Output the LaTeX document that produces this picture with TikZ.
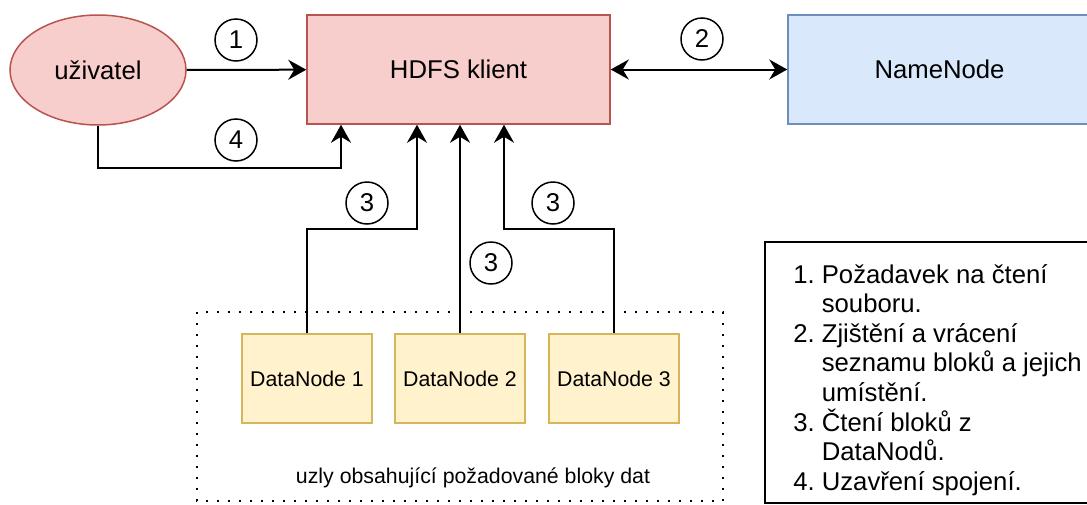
\documentclass[tikz,border=0pt]{standalone}
\usepackage{fontspec}
\setmainfont{Liberation Sans}
\usetikzlibrary{shapes.geometric,arrows.meta}
\definecolor{userfill}{HTML}{F8CECC}
\definecolor{userline}{HTML}{B85450}
\definecolor{namefill}{HTML}{DAE8FC}
\definecolor{nameline}{HTML}{6C8EBF}
\definecolor{dnfill}{HTML}{FFF2CC}
\definecolor{dnline}{HTML}{D6B656}
\begin{document}
\begin{tikzpicture}[x=0.5pt,y=-0.5pt,
  every node/.style={font=\fontsize{12.85}{15}\selectfont},
  >={Stealth[length=9pt,width=10pt,inset=3pt]},
  box/.style={draw,line width=0.75pt,minimum width=151.5pt,minimum height=54.5pt,inner sep=0pt},
  dnode/.style={draw=dnline,fill=dnfill,line width=0.9pt,minimum width=65pt,minimum height=44.5pt,inner sep=0pt,font=\fontsize{10.65}{13}\selectfont},
  num/.style={circle,draw,line width=0.75pt,minimum size=21pt,inner sep=0pt},
  arr/.style={line width=1pt,->}]
  \useasboundingbox (0,0) rectangle (1087,504);
  \clip (0,0) rectangle (1087,504);
  % main nodes
  \node[ellipse,draw=userline,fill=userfill,line width=0.75pt,minimum width=88pt,minimum height=55pt,inner sep=0pt] (user) at (98,70) {uživatel};
  \node[box,draw=userline,fill=userfill] (client) at (458.5,69.5) {HDFS klient};
  \node[box,draw=nameline,fill=namefill] (namenode) at (939.5,69.5) {NameNode};
  \node[dnode] (dn1) at (307,378.5) {DataNode 1};
  \node[dnode] (dn2) at (460,378.5) {DataNode 2};
  \node[dnode] (dn3) at (614,378.5) {DataNode 3};
  % group of datanodes
  \draw[line width=1pt,dash pattern=on 1pt off 4.5pt] (197,312) rectangle (723,501);
  \node[font=\fontsize{10.65}{13}\selectfont] (grp) at (473,478) {uzly obsahující požadované bloky dat};
  % connectors
  \coordinate (c4) at (341,168);
  \coordinate (c3a) at (417,229);
  \coordinate (c3c) at (504,229);
  \draw[arr] (user) -- (client);
  \draw[arr,<->] (client) -- (namenode);
  \draw[arr] (user.south) |- (c4) -- (c4 |- client.south);
  \draw[arr] (dn1.north) |- (c3a) -- (c3a |- client.south);
  \draw[arr] (dn2.north) -- (dn2.north |- client.south);
  \draw[arr] (dn3.north) |- (c3c) -- (c3c |- client.south);
  % step numbers
  \node[num] (n1) at (236,40) {1};
  \node[num] (n2) at (702,39) {2};
  \node[num] (n4) at (236,140) {4};
  \node[num] (n3a) at (367,203) {3};
  \node[num] (n3b) at (491,263) {3};
  \node[num] (n3c) at (553,203) {3};
  % legend
  \draw[line width=0.75pt] (765,242) rectangle (1095,503);
  \node[anchor=base west,inner sep=0pt,font=\fontsize{12.85}{14.8}\selectfont] (legend) at (793,283)
    {\begin{tabular}[t]{@{}l@{\hspace{3.5pt}}l@{}}
      1. & \smash{Požadavek na čtení}\\
         & souboru.\\
      2. & \smash{Zjištění a vrácení}\\
         & seznamu bloků a jejich\\
         & \smash{umístění.}\\
      3. & \smash{Čtení bloků z}\\
         & \smash{DataNodů.}\\
      4. & \smash{Uzavření spojení.}
    \end{tabular}};
\end{tikzpicture}
\end{document}
